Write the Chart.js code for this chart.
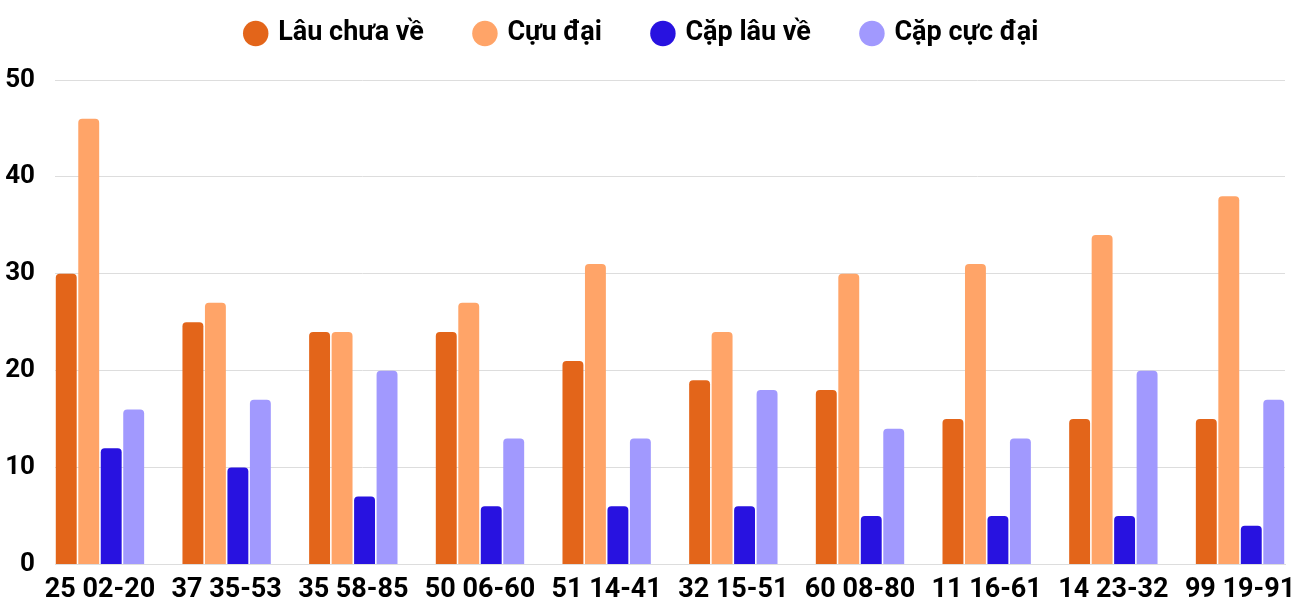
<!DOCTYPE html>
<html>
<head>
<meta charset="utf-8">
<script src="https://cdn.jsdelivr.net/npm/chart.js@4/dist/chart.umd.min.js"></script>
<style>
  body { margin: 0; background: #fff; }
  #wrap { width: 1300px; height: 600px; }
</style>
</head>
<body>
<div id="wrap"><canvas id="chart" width="1300" height="600"></canvas></div>
<script>
const labels = ["25 02-20", "37 35-53", "35 58-85", "50 06-60", "51 14-41", "32 15-51", "60 08-80", "11 16-61", "14 23-32", "99 19-91"];
const lauChuaVe = [30, 25, 24, 24, 21, 19, 18, 15, 15, 15];
const cucDai = [46, 27, 24, 27, 31, 24, 30, 31, 34, 38];
const capLauVe = [12, 10, 7, 6, 6, 6, 5, 5, 5, 4];
const capCucDai = [16, 17, 20, 13, 13, 18, 14, 13, 20, 17];

const seriesNames = ["Lâu chưa về", "Cựu đại", "Cặp lâu về", "Cặp cực đại"];
const colors = ['#E3651A', '#FFA468', '#2812E0', '#A199FE'];

const toPoints = arr => arr.map((v, i) => ({ x: i, y: v }));

const ds = (name, arr, color) => ({
    label: name,
    data: toPoints(arr),
    backgroundColor: color,
    borderWidth: 0,
    borderRadius: 4,
    borderSkipped: 'bottom',
    categoryPercentage: 0.71,
    barPercentage: 0.93
});

// give the legend extra room underneath without moving its items
const legendGap = {
    id: 'legendGap',
    beforeInit(chart) {
        const fit = chart.legend.fit;
        chart.legend.fit = function () {
            fit.call(this);
            this.height += 23;
        };
    }
};

new Chart(document.getElementById('chart').getContext('2d'), {
    type: 'bar',
    data: {
        datasets: [
            ds(seriesNames[0], lauChuaVe, colors[0]),
            ds(seriesNames[1], cucDai, colors[1]),
            ds(seriesNames[2], capLauVe, colors[2]),
            ds(seriesNames[3], capCucDai, colors[3])
        ]
    },
    plugins: [legendGap],
    options: {
        responsive: false,
        animation: false,
        layout: { padding: { top: -32, right: 15, bottom: 0, left: 0 } },
        plugins: {
            tooltip: { enabled: false },
            legend: {
                position: 'top',
                maxHeight: 200,
                labels: {
                    usePointStyle: true,
                    pointStyle: 'circle',
                    boxWidth: 18,
                    boxHeight: 18,
                    padding: 52,
                    color: '#000',
                    font: { family: 'Roboto', size: 27, weight: 'bold' }
                }
            }
        },
        scales: {
            x: {
                type: 'linear',
                offset: false,
                min: -0.355,
                max: 9.355,
                grid: { display: false },
                border: { color: '#dddddd' },
                afterBuildTicks: s => { s.ticks = labels.map((_, i) => ({ value: i })); },
                afterFit: s => { s.height = 33; },
                ticks: {
                    color: '#000',
                    padding: 2,
                    maxRotation: 0,
                    autoSkip: false,
                    font: { family: 'Roboto', size: 27, weight: 'bold' },
                    callback: v => labels[v]
                }
            },
            y: {
                min: 0,
                max: 50,
                ticks: {
                    stepSize: 10,
                    color: '#000',
                    padding: 20,
                    font: { family: 'Roboto', size: 26, weight: 'bold' }
                },
                grid: { color: '#dddddd', drawTicks: false },
                border: { display: false },
                afterFit: s => { s.width = 55; }
            }
        }
    }
});
</script>
</body>
</html>
